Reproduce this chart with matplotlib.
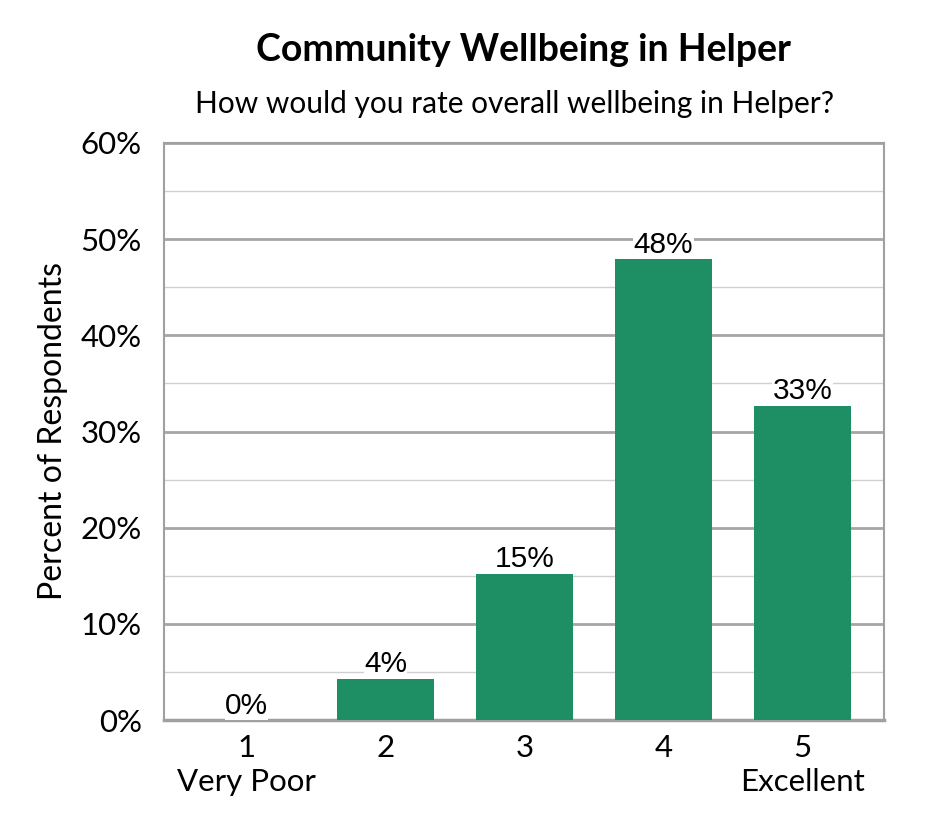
import numpy as np
import matplotlib.pyplot as plt
from matplotlib.ticker import MultipleLocator, FuncFormatter

# ratings and share of respondents (%)
ratings = ["1\nVery Poor", "2", "3", "4", "5\nExcellent"]
percents = [0.0, 4.3, 15.2, 47.9, 32.7]
value_labels = ["0%", "4%", "15%", "48%", "33%"]

bar_color = "#1e8f65"
grid_major = "#a6a6a6"
grid_minor = "#d0d0d0"

fig = plt.figure(figsize=(9.45, 8.4), dpi=100)
ax = fig.add_axes([164 / 945, 1 - 720 / 840, 720 / 945, 577 / 840])

x = np.arange(1, len(percents) + 1)
ax.bar(x, percents, width=0.70, color=bar_color, zorder=3)

for xi, v, lab in zip(x, percents, value_labels):
    ax.text(xi, v + 0.05, lab, ha="center", va="bottom", fontsize=21.5,
            family="Liberation Sans", zorder=4,
            bbox=dict(facecolor="white", edgecolor="none", pad=0.3))

ax.set_xlim(0.406, 5.586)
ax.set_ylim(0, 60)
ax.yaxis.set_major_locator(MultipleLocator(10))
ax.yaxis.set_minor_locator(MultipleLocator(5))
ax.yaxis.set_major_formatter(FuncFormatter(lambda v, p: f"{v:.0f}%"))
ax.grid(which="major", axis="y", color=grid_major, linewidth=2, zorder=0)
ax.grid(which="minor", axis="y", color=grid_minor, linewidth=1, zorder=0)

ax.set_xticks(x)
ax.set_xticklabels(ratings, family="Lato", fontsize=22.5, linespacing=1.25)
ax.tick_params(axis="both", which="both", length=0)
ax.tick_params(axis="x", pad=10)
ax.tick_params(axis="y", labelsize=22.5, pad=16)
for lab in ax.get_yticklabels():
    lab.set_family("Lato")

for s in ax.spines.values():
    s.set_color("#a0a0a0")
    s.set_linewidth(1.5)
ax.spines["bottom"].set_linewidth(2.5)

ax.set_ylabel("Percent of Respondents", family="Lato", fontsize=23, labelpad=9)

fig.text(524 / 945, 1 - 50 / 840, "Community Wellbeing in Helper",
         ha="center", va="center", fontsize=27, fontweight="bold", family="Lato")
fig.text(515 / 945, 1 - 104 / 840,
         "How would you rate overall wellbeing in Helper?",
         ha="center", va="center", fontsize=21.5, family="Lato")

fig.savefig("out.png", dpi=100)
